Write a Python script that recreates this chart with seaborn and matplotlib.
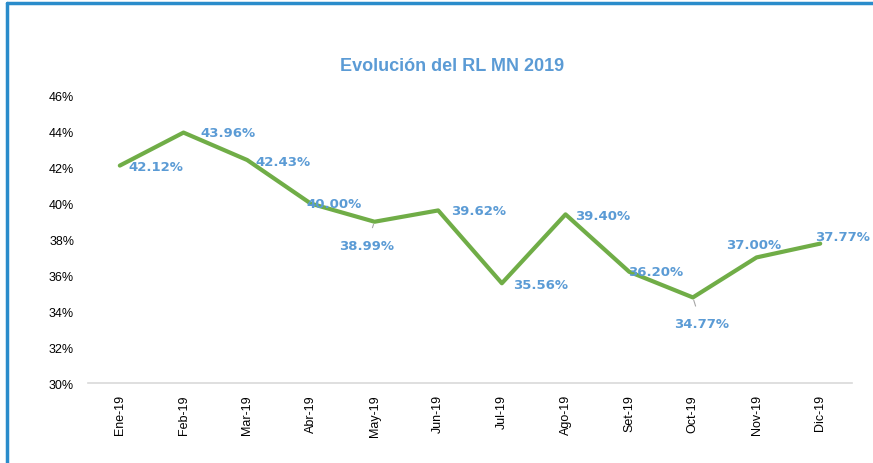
import matplotlib
matplotlib.use("Agg")
import matplotlib.pyplot as plt
from matplotlib.lines import Line2D
import seaborn as sns
import pandas as pd

meses = ["Ene-19", "Feb-19", "Mar-19", "Abr-19", "May-19", "Jun-19",
         "Jul-19", "Ago-19", "Set-19", "Oct-19", "Nov-19", "Dic-19"]
rl = [42.12, 43.96, 42.43, 40.00, 38.99, 39.62,
      35.56, 39.40, 36.20, 34.77, 37.00, 37.77]
y_ticks = [30, 32, 34, 36, 38, 40, 42, 44, 46]

# offsets de las etiquetas (puntos), como en el original
offsets = [(26, -1), (32, 0), (26, -1), (17, 0), (-6, -17), (29, 0),
           (28, -1), (27, -1), (19, 0), (6, -19), (-2, 9), (16, 5)]

sns.set_theme(style="white")
plt.rcParams["font.family"] = ["Liberation Sans Narrow", "Liberation Sans", "DejaVu Sans"]

df = pd.DataFrame({"mes": meses, "rl": rl})
df["x"] = range(len(df))

fig = plt.figure(figsize=(8.73, 4.64), dpi=100)
ax = fig.add_axes([0.1008, 0.1724, 0.8752, 0.6186])

sns.lineplot(data=df, x="x", y="rl", ax=ax, color="#70AD47", linewidth=3)

azul = "#5B9BD5"
for i, (v, off) in enumerate(zip(rl, offsets)):
    lead = None
    if meses[i] in ("May-19", "Oct-19"):
        lead = dict(arrowstyle="-", color="#A6A6A6", lw=0.8, shrinkA=6, shrinkB=2)
    ax.annotate(f"{v:.2f}%", (i, v), xytext=off, textcoords="offset points",
                ha="center", va="center", color=azul, fontsize=9.5,
                fontweight="bold", family=["DejaVu Sans"], arrowprops=lead)

ax.set_xlim(-0.5, len(meses) - 0.5)
ax.set_ylim(30, 46)
ax.set_yticks(y_ticks)
ax.set_yticklabels([f"{t}%" for t in y_ticks], fontsize=9, color="black")
ax.set_xticks(range(len(meses)))
ax.set_xticklabels(meses, rotation=90, fontsize=9, color="black")
ax.set_xticks([i - 0.5 for i in range(len(meses) + 1)], minor=True)
ax.tick_params(axis="x", which="major", length=0, pad=8)
ax.tick_params(axis="x", which="minor", length=4, color="#D9D9D9", width=1, direction="out")
ax.tick_params(axis="y", length=0, pad=10)
ax.set_xlabel("")
ax.set_ylabel("")
for s in ("top", "right", "left"):
    ax.spines[s].set_visible(False)
ax.spines["bottom"].set_color("#D9D9D9")
ax.spines["bottom"].set_linewidth(1.2)

fig.text(0.518, 0.857, "Evolución del RL MN 2019", ha="center", va="center",
         fontsize=13, fontweight="bold", color=azul)

# marco azul del recuadro
fig.add_artist(Line2D([0.008, 1.0], [0.991, 0.991], color="#2A8CCB", lw=2.5))
fig.add_artist(Line2D([0.008, 0.008], [0.0, 0.991], color="#2A8CCB", lw=2.5))

fig.savefig("out.png", dpi=100)
